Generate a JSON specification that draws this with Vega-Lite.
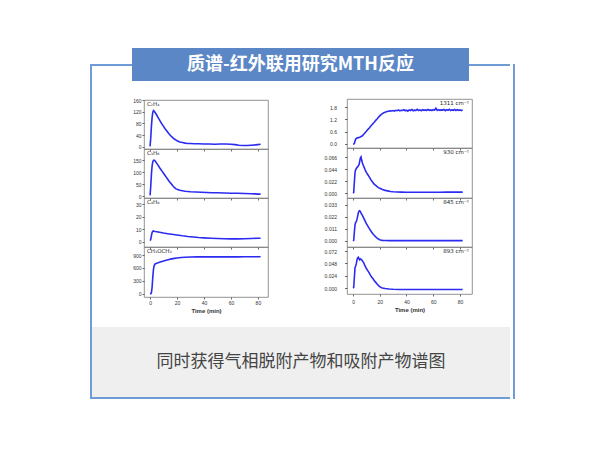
{
  "$schema": "https://vega.github.io/schema/vega-lite/v6.json",
  "padding": {"left": 90, "top": 48, "right": 0, "bottom": 0},
  "background": "white",
  "config": {
    "view": {"stroke": null},
    "concat": {"spacing": 0},
    "font": "Liberation Sans",
    "axis": {"domain": false, "grid": false, "tickColor": "#444", "tickWidth": 0.8, "labelColor": "#333", "labelFontSize": 5, "labelOverlap": false, "labelFlush": false, "labelBound": false, "tickSize": 2, "labelPadding": 1, "titleFontSize": 6, "titleFontWeight": "bold", "titleColor": "#333", "titlePadding": 2}
  },
  "datasets": {
    "c2h4": [{"t":0,"v":2},{"t":0.5,"v":30},{"t":1,"v":70},{"t":1.5,"v":100},{"t":2,"v":118},{"t":2.5,"v":124},{"t":3,"v":122},{"t":4,"v":116},{"t":5,"v":108},{"t":6,"v":100},{"t":7,"v":92},{"t":8,"v":84},{"t":9,"v":77},{"t":10,"v":70},{"t":11,"v":63},{"t":12,"v":57},{"t":13,"v":51},{"t":14,"v":45},{"t":15,"v":40},{"t":16,"v":35},{"t":17,"v":31},{"t":18,"v":27},{"t":19,"v":24},{"t":20,"v":21},{"t":22,"v":17},{"t":24,"v":15},{"t":26,"v":13},{"t":28,"v":12},{"t":30,"v":12},{"t":33,"v":11},{"t":36,"v":11},{"t":40,"v":10},{"t":44,"v":10},{"t":48,"v":9},{"t":52,"v":10},{"t":56,"v":10},{"t":60,"v":9},{"t":63,"v":8},{"t":66,"v":6},{"t":69,"v":5},{"t":72,"v":5},{"t":75,"v":6},{"t":78,"v":7},{"t":80,"v":8},{"t":82,"v":9}],
    "c3h6": [{"t":0,"v":3},{"t":0.5,"v":40},{"t":1,"v":90},{"t":1.5,"v":125},{"t":2,"v":142},{"t":2.5,"v":149},{"t":3,"v":150},{"t":3.5,"v":148},{"t":4,"v":144},{"t":5,"v":136},{"t":6,"v":128},{"t":7,"v":119},{"t":8,"v":111},{"t":9,"v":103},{"t":10,"v":95},{"t":11,"v":87},{"t":12,"v":79},{"t":13,"v":71},{"t":14,"v":63},{"t":15,"v":56},{"t":16,"v":49},{"t":17,"v":42},{"t":18,"v":36},{"t":19,"v":31},{"t":20,"v":28},{"t":22,"v":24},{"t":24,"v":22},{"t":26,"v":20},{"t":28,"v":19},{"t":30,"v":18},{"t":34,"v":17},{"t":38,"v":16},{"t":42,"v":15},{"t":46,"v":14},{"t":50,"v":14},{"t":55,"v":13},{"t":60,"v":12},{"t":65,"v":12},{"t":70,"v":11},{"t":75,"v":10},{"t":78,"v":9},{"t":80,"v":8},{"t":82,"v":8}],
    "c4h8": [{"t":0,"v":1},{"t":0.5,"v":2},{"t":1,"v":5},{"t":1.5,"v":7.5},{"t":2,"v":8.5},{"t":2.5,"v":8.8},{"t":3,"v":8.6},{"t":4,"v":8.3},{"t":6,"v":7.9},{"t":8,"v":7.5},{"t":10,"v":7.1},{"t":13,"v":6.6},{"t":16,"v":6.1},{"t":20,"v":5.5},{"t":24,"v":4.9},{"t":28,"v":4.4},{"t":32,"v":4.0},{"t":36,"v":3.6},{"t":40,"v":3.3},{"t":45,"v":3.0},{"t":50,"v":2.8},{"t":55,"v":2.6},{"t":60,"v":2.5},{"t":65,"v":2.5},{"t":70,"v":2.6},{"t":75,"v":2.8},{"t":80,"v":3.0},{"t":82,"v":3.0}],
    "dme": [{"t":0,"v":0},{"t":0.5,"v":5},{"t":1,"v":30},{"t":1.5,"v":150},{"t":2,"v":380},{"t":2.5,"v":560},{"t":3,"v":650},{"t":3.5,"v":685},{"t":4,"v":700},{"t":5,"v":712},{"t":6,"v":722},{"t":7,"v":732},{"t":8,"v":742},{"t":9,"v":752},{"t":10,"v":762},{"t":12,"v":780},{"t":14,"v":795},{"t":16,"v":810},{"t":18,"v":822},{"t":20,"v":832},{"t":23,"v":842},{"t":26,"v":849},{"t":30,"v":854},{"t":35,"v":857},{"t":40,"v":858},{"t":45,"v":857},{"t":50,"v":856},{"t":55,"v":857},{"t":60,"v":858},{"t":65,"v":858},{"t":70,"v":859},{"t":75,"v":860},{"t":80,"v":860},{"t":82,"v":860}],
    "r1311": [{"t":0,"v":0.0},{"t":0.5,"v":0.0},{"t":1,"v":0.02},{"t":1.5,"v":0.15},{"t":2,"v":0.24},{"t":2.5,"v":0.27},{"t":3,"v":0.29},{"t":4,"v":0.31},{"t":5,"v":0.33},{"t":6,"v":0.36},{"t":7,"v":0.4},{"t":8,"v":0.47},{"t":9,"v":0.55},{"t":10,"v":0.62},{"t":11,"v":0.7},{"t":12,"v":0.77},{"t":13,"v":0.85},{"t":14,"v":0.92},{"t":15,"v":1.0},{"t":16,"v":1.07},{"t":17,"v":1.15},{"t":18,"v":1.22},{"t":19,"v":1.3},{"t":20,"v":1.37},{"t":21,"v":1.43},{"t":22,"v":1.48},{"t":23,"v":1.52},{"t":24,"v":1.55},{"t":25,"v":1.57},{"t":26,"v":1.59},{"t":27,"v":1.6},{"t":28,"v":1.62},{"t":29,"v":1.61},{"t":30,"v":1.63},{"t":31,"v":1.6},{"t":32,"v":1.64},{"t":33,"v":1.62},{"t":34,"v":1.66},{"t":35,"v":1.61},{"t":36,"v":1.64},{"t":37,"v":1.63},{"t":38,"v":1.67},{"t":39,"v":1.62},{"t":40,"v":1.65},{"t":41,"v":1.6},{"t":42,"v":1.66},{"t":43,"v":1.63},{"t":44,"v":1.68},{"t":45,"v":1.62},{"t":46,"v":1.65},{"t":47,"v":1.64},{"t":48,"v":1.69},{"t":49,"v":1.63},{"t":50,"v":1.66},{"t":51,"v":1.62},{"t":52,"v":1.67},{"t":53,"v":1.64},{"t":54,"v":1.66},{"t":55,"v":1.63},{"t":56,"v":1.68},{"t":57,"v":1.64},{"t":58,"v":1.66},{"t":59,"v":1.63},{"t":60,"v":1.67},{"t":61,"v":1.65},{"t":62,"v":1.74},{"t":63,"v":1.63},{"t":64,"v":1.67},{"t":65,"v":1.64},{"t":66,"v":1.66},{"t":67,"v":1.65},{"t":68,"v":1.68},{"t":69,"v":1.62},{"t":70,"v":1.67},{"t":71,"v":1.64},{"t":72,"v":1.69},{"t":73,"v":1.63},{"t":74,"v":1.66},{"t":75,"v":1.64},{"t":76,"v":1.68},{"t":77,"v":1.63},{"t":78,"v":1.67},{"t":79,"v":1.64},{"t":80,"v":1.66},{"t":81,"v":1.62},{"t":82,"v":1.65}],
    "r930": [{"t":0,"v":0.0},{"t":0.5,"v":0.001},{"t":1,"v":0.02},{"t":1.5,"v":0.038},{"t":2,"v":0.043},{"t":2.5,"v":0.045},{"t":3,"v":0.047},{"t":3.5,"v":0.048},{"t":4,"v":0.05},{"t":4.5,"v":0.052},{"t":5,"v":0.058},{"t":5.5,"v":0.064},{"t":6,"v":0.066},{"t":6.5,"v":0.06},{"t":7,"v":0.055},{"t":8,"v":0.049},{"t":9,"v":0.043},{"t":10,"v":0.038},{"t":11,"v":0.034},{"t":12,"v":0.03},{"t":13,"v":0.026},{"t":14,"v":0.022},{"t":15,"v":0.019},{"t":16,"v":0.016},{"t":17,"v":0.014},{"t":18,"v":0.012},{"t":19,"v":0.01},{"t":20,"v":0.0088},{"t":22,"v":0.0065},{"t":24,"v":0.005},{"t":26,"v":0.004},{"t":28,"v":0.003},{"t":30,"v":0.0025},{"t":33,"v":0.002},{"t":36,"v":0.0018},{"t":40,"v":0.0016},{"t":45,"v":0.0015},{"t":50,"v":0.0015},{"t":55,"v":0.0016},{"t":60,"v":0.0015},{"t":65,"v":0.0016},{"t":70,"v":0.0017},{"t":75,"v":0.0017},{"t":80,"v":0.0018},{"t":82,"v":0.0018}],
    "r845": [{"t":0,"v":0},{"t":0.5,"v":0.0005},{"t":1,"v":0.008},{"t":1.5,"v":0.015},{"t":2,"v":0.017},{"t":2.5,"v":0.018},{"t":3,"v":0.02},{"t":3.5,"v":0.023},{"t":4,"v":0.026},{"t":4.5,"v":0.0275},{"t":5,"v":0.0278},{"t":5.5,"v":0.027},{"t":6,"v":0.0255},{"t":7,"v":0.0235},{"t":8,"v":0.021},{"t":9,"v":0.0185},{"t":10,"v":0.016},{"t":11,"v":0.0138},{"t":12,"v":0.0118},{"t":13,"v":0.0098},{"t":14,"v":0.008},{"t":15,"v":0.0064},{"t":16,"v":0.005},{"t":17,"v":0.0038},{"t":18,"v":0.0027},{"t":19,"v":0.0018},{"t":20,"v":0.0012},{"t":21,"v":0.0008},{"t":22,"v":0.0006},{"t":24,"v":0.0004},{"t":27,"v":0.0003},{"t":30,"v":0.0003},{"t":40,"v":0.0003},{"t":50,"v":0.0003},{"t":60,"v":0.0003},{"t":70,"v":0.0003},{"t":82,"v":0.0003}],
    "r893": [{"t":0,"v":0},{"t":0.5,"v":0.001},{"t":1,"v":0.02},{"t":1.5,"v":0.04},{"t":2,"v":0.043},{"t":2.5,"v":0.048},{"t":3,"v":0.055},{"t":3.5,"v":0.059},{"t":4,"v":0.06},{"t":4.5,"v":0.057},{"t":5,"v":0.055},{"t":5.5,"v":0.057},{"t":6,"v":0.056},{"t":6.5,"v":0.055},{"t":7,"v":0.053},{"t":8,"v":0.049},{"t":9,"v":0.043},{"t":10,"v":0.038},{"t":11,"v":0.034},{"t":12,"v":0.03},{"t":13,"v":0.025},{"t":14,"v":0.021},{"t":15,"v":0.018},{"t":16,"v":0.014},{"t":17,"v":0.011},{"t":18,"v":0.008},{"t":19,"v":0.005},{"t":20,"v":0.0025},{"t":21,"v":0.001},{"t":22,"v":0},{"t":24,"v":-0.001},{"t":27,"v":-0.002},{"t":30,"v":-0.0025},{"t":35,"v":-0.003},{"t":40,"v":-0.003},{"t":50,"v":-0.003},{"t":60,"v":-0.003},{"t":70,"v":-0.003},{"t":80,"v":-0.003},{"t":82,"v":-0.003}]
  },
  "spacing": 0,
  "hconcat": [
    {"spacing": 0, "bounds": "flush", "vconcat": [
      {"width": 2, "height": 16, "data": {"values": [{}]}, "mark": {"type": "text", "fontSize": 0}, "encoding": {"text": {"value": ""}}},
      {"width": 2, "height": 335, "data": {"values": [{}]}, "view": {"fill": "#6f9bd6", "stroke": null}, "mark": {"type": "text", "fontSize": 0}, "encoding": {"text": {"value": ""}}}
    ]},
    {"spacing": 0, "vconcat": [
      {"spacing": 0, "hconcat": [
        {"spacing": 0, "bounds": "flush", "vconcat": [
          {"width": 40, "height": 16, "data": {"values": [{}]}, "mark": {"type": "text", "fontSize": 0}, "encoding": {"text": {"value": ""}}},
          {"width": 40, "height": 2, "data": {"values": [{}]}, "view": {"fill": "#6f9bd6", "stroke": null}, "mark": {"type": "text", "fontSize": 0}, "encoding": {"text": {"value": ""}}}
        ]},
        {"width": 337, "height": 33, "data": {"values": [{}]}, "view": {"fill": "#5b87c6", "stroke": null},
         "mark": {"type": "text", "fill": "white", "fontSize": 18, "fontWeight": "bold", "font": "Noto Sans CJK SC"},
         "encoding": {"text": {"value": "质谱-红外联用研究MTH反应"}}},
        {"spacing": 0, "bounds": "flush", "vconcat": [
          {"width": 41, "height": 16, "data": {"values": [{}]}, "mark": {"type": "text", "fontSize": 0}, "encoding": {"text": {"value": ""}}},
          {"width": 41, "height": 2, "data": {"values": [{}]}, "view": {"fill": "#6f9bd6", "stroke": null}, "mark": {"type": "text", "fontSize": 0}, "encoding": {"text": {"value": ""}}}
        ]}
      ]},
      {"spacing": 0, "hconcat": [
        {"width": 40, "height": 246, "data": {"values": [{}]}, "mark": {"type": "text", "fontSize": 0}, "encoding": {"text": {"value": ""}}},
        {"spacing": 0, "bounds": "flush", "vconcat": [
          {"width": 124, "height": 19, "data": {"values": [{}]}, "mark": {"type": "text", "fontSize": 0}, "encoding": {"text": {"value": ""}}},
          {"width": 124, "height": 49, "view": {"stroke": "#777", "strokeWidth": 0.8}, "resolve": {"axis": {"x": "independent", "y": "independent"}}, "layer": [
            {"data": {"name": "c2h4"}, "mark": {"type": "line", "color": "#2b2bf2", "strokeWidth": 1.6, "clip": true},
             "encoding": {
               "x": {"field": "t", "type": "quantitative", "scale": {"domain": [-4.5, 87.5], "nice": false, "zero": false}, "axis": {"values": [0,20,40,60,80], "labels": false, "title": null, "labelOverlap": false}},
               "y": {"field": "v", "type": "quantitative", "scale": {"domain": [-7, 160], "nice": false, "zero": false}, "axis": {"values": [0,40,80,120,160], "title": null, "labelOverlap": false}}}},
            {"data": {"values": [{"label": "C₂H₄"}]}, "mark": {"type": "text", "align": "left", "baseline": "top", "dx": 3, "dy": 2, "fontSize": 5.5, "font": "DejaVu Sans", "fill": "#222"},
             "encoding": {"x": {"datum": -4.5, "type": "quantitative", "axis": null}, "y": {"datum": 160, "type": "quantitative", "axis": null}, "text": {"field": "label"}}}
          ]},
          {"width": 124, "height": 49, "view": {"stroke": "#777", "strokeWidth": 0.8}, "resolve": {"axis": {"x": "independent", "y": "independent"}}, "layer": [
            {"data": {"name": "c3h6"}, "mark": {"type": "line", "color": "#2b2bf2", "strokeWidth": 1.6, "clip": true},
             "encoding": {
               "x": {"field": "t", "type": "quantitative", "scale": {"domain": [-4.5, 87.5], "nice": false, "zero": false}, "axis": {"values": [0,20,40,60,80], "labels": false, "title": null, "labelOverlap": false}},
               "y": {"field": "v", "type": "quantitative", "scale": {"domain": [-8, 196], "nice": false, "zero": false}, "axis": {"values": [0,50,100,150], "title": null, "labelOverlap": false}}}},
            {"data": {"values": [{"label": "C₃H₆"}]}, "mark": {"type": "text", "align": "left", "baseline": "top", "dx": 3, "dy": 2, "fontSize": 5.5, "font": "DejaVu Sans", "fill": "#222"},
             "encoding": {"x": {"datum": -4.5, "type": "quantitative", "axis": null}, "y": {"datum": 196, "type": "quantitative", "axis": null}, "text": {"field": "label"}}}
          ]},
          {"width": 124, "height": 49, "view": {"stroke": "#777", "strokeWidth": 0.8}, "resolve": {"axis": {"x": "independent", "y": "independent"}}, "layer": [
            {"data": {"name": "c4h8"}, "mark": {"type": "line", "color": "#2b2bf2", "strokeWidth": 1.6, "clip": true},
             "encoding": {
               "x": {"field": "t", "type": "quantitative", "scale": {"domain": [-4.5, 87.5], "nice": false, "zero": false}, "axis": {"values": [0,20,40,60,80], "labels": false, "title": null, "labelOverlap": false}},
               "y": {"field": "v", "type": "quantitative", "scale": {"domain": [-4, 35], "nice": false, "zero": false}, "axis": {"values": [0,10,20,30], "title": null, "labelOverlap": false}}}},
            {"data": {"values": [{"label": "C₄H₈"}]}, "mark": {"type": "text", "align": "left", "baseline": "top", "dx": 3, "dy": 2, "fontSize": 5.5, "font": "DejaVu Sans", "fill": "#222"},
             "encoding": {"x": {"datum": -4.5, "type": "quantitative", "axis": null}, "y": {"datum": 35, "type": "quantitative", "axis": null}, "text": {"field": "label"}}}
          ]},
          {"width": 124, "height": 50, "view": {"stroke": "#777", "strokeWidth": 0.8}, "resolve": {"axis": {"x": "independent", "y": "independent"}}, "layer": [
            {"data": {"name": "dme"}, "mark": {"type": "line", "color": "#2b2bf2", "strokeWidth": 1.6, "clip": true},
             "encoding": {
               "x": {"field": "t", "type": "quantitative", "scale": {"domain": [-4.5, 87.5], "nice": false, "zero": false}, "axis": {"values": [0,20,40,60,80], "title": "Time (min)", "format": "d", "labelOverlap": false}},
               "y": {"field": "v", "type": "quantitative", "scale": {"domain": [-70, 1085], "nice": false, "zero": false}, "axis": {"values": [0,300,600,900], "title": null, "labelOverlap": false}}}},
            {"data": {"values": [{"label": "CH₃OCH₃"}]}, "mark": {"type": "text", "align": "left", "baseline": "top", "dx": 3, "dy": 2, "fontSize": 5.5, "font": "DejaVu Sans", "fill": "#222"},
             "encoding": {"x": {"datum": -4.5, "type": "quantitative", "axis": null}, "y": {"datum": 1085, "type": "quantitative", "axis": null}, "text": {"field": "label"}}}
          ]}
        ]},
        {"width": 54, "height": 246, "data": {"values": [{}]}, "mark": {"type": "text", "fontSize": 0}, "encoding": {"text": {"value": ""}}},
        {"spacing": 0, "bounds": "flush", "vconcat": [
          {"width": 125, "height": 18, "data": {"values": [{}]}, "mark": {"type": "text", "fontSize": 0}, "encoding": {"text": {"value": ""}}},
          {"width": 125, "height": 49, "view": {"stroke": "#777", "strokeWidth": 0.8}, "resolve": {"axis": {"x": "independent", "y": "independent"}}, "layer": [
            {"data": {"name": "r1311"}, "mark": {"type": "line", "color": "#2b2bf2", "strokeWidth": 1.6, "clip": true},
             "encoding": {
               "x": {"field": "t", "type": "quantitative", "scale": {"domain": [-4.5, 89], "nice": false, "zero": false}, "axis": {"values": [0,20,40,60,80], "labels": false, "title": null, "labelOverlap": false}},
               "y": {"field": "v", "type": "quantitative", "scale": {"domain": [-0.195, 2.19], "nice": false, "zero": false}, "axis": {"values": [0,0.6,1.2,1.8], "format": ".1f", "title": null, "labelPadding": 8, "tickSize": 2.5, "labelOverlap": false}}}},
            {"data": {"values": [{"label": "1311 cm⁻¹"}]}, "mark": {"type": "text", "align": "right", "baseline": "top", "dx": -3, "dy": 2, "fontSize": 5.5, "font": "DejaVu Sans", "fill": "#222"},
             "encoding": {"x": {"datum": 89, "type": "quantitative", "axis": null}, "y": {"datum": 2.19, "type": "quantitative", "axis": null}, "text": {"field": "label"}}}
          ]},
          {"width": 125, "height": 50, "view": {"stroke": "#777", "strokeWidth": 0.8}, "resolve": {"axis": {"x": "independent", "y": "independent"}}, "layer": [
            {"data": {"name": "r930"}, "mark": {"type": "line", "color": "#2b2bf2", "strokeWidth": 1.6, "clip": true},
             "encoding": {
               "x": {"field": "t", "type": "quantitative", "scale": {"domain": [-4.5, 89], "nice": false, "zero": false}, "axis": {"values": [0,20,40,60,80], "labels": false, "title": null, "labelOverlap": false}},
               "y": {"field": "v", "type": "quantitative", "scale": {"domain": [-0.009, 0.0825], "nice": false, "zero": false}, "axis": {"values": [0,0.022,0.044,0.066], "format": ".3f", "title": null, "labelPadding": 8, "tickSize": 2.5, "labelOverlap": false}}}},
            {"data": {"values": [{"label": "930 cm⁻¹"}]}, "mark": {"type": "text", "align": "right", "baseline": "top", "dx": -3, "dy": 2, "fontSize": 5.5, "font": "DejaVu Sans", "fill": "#222"},
             "encoding": {"x": {"datum": 89, "type": "quantitative", "axis": null}, "y": {"datum": 0.0825, "type": "quantitative", "axis": null}, "text": {"field": "label"}}}
          ]},
          {"width": 125, "height": 49, "view": {"stroke": "#777", "strokeWidth": 0.8}, "resolve": {"axis": {"x": "independent", "y": "independent"}}, "layer": [
            {"data": {"name": "r845"}, "mark": {"type": "line", "color": "#2b2bf2", "strokeWidth": 1.6, "clip": true},
             "encoding": {
               "x": {"field": "t", "type": "quantitative", "scale": {"domain": [-4.5, 89], "nice": false, "zero": false}, "axis": {"values": [0,20,40,60,80], "labels": false, "title": null, "labelOverlap": false}},
               "y": {"field": "v", "type": "quantitative", "scale": {"domain": [-0.0055, 0.0394], "nice": false, "zero": false}, "axis": {"values": [0,0.011,0.022,0.033], "format": ".3f", "title": null, "labelPadding": 8, "tickSize": 2.5, "labelOverlap": false}}}},
            {"data": {"values": [{"label": "845 cm⁻¹"}]}, "mark": {"type": "text", "align": "right", "baseline": "top", "dx": -3, "dy": 2, "fontSize": 5.5, "font": "DejaVu Sans", "fill": "#222"},
             "encoding": {"x": {"datum": 89, "type": "quantitative", "axis": null}, "y": {"datum": 0.0394, "type": "quantitative", "axis": null}, "text": {"field": "label"}}}
          ]},
          {"width": 125, "height": 47, "view": {"stroke": "#777", "strokeWidth": 0.8}, "resolve": {"axis": {"x": "independent", "y": "independent"}}, "layer": [
            {"data": {"name": "r893"}, "mark": {"type": "line", "color": "#2b2bf2", "strokeWidth": 1.6, "clip": true},
             "encoding": {
               "x": {"field": "t", "type": "quantitative", "scale": {"domain": [-4.5, 89], "nice": false, "zero": false}, "axis": {"values": [0,20,40,60,80], "title": "Time (min)", "format": "d", "labelPadding": 3, "labelOverlap": false}},
               "y": {"field": "v", "type": "quantitative", "scale": {"domain": [-0.0117, 0.08], "nice": false, "zero": false}, "axis": {"values": [0,0.024,0.048,0.072], "format": ".3f", "title": null, "labelPadding": 8, "tickSize": 2.5, "labelOverlap": false}}}},
            {"data": {"values": [{"label": "893 cm⁻¹"}]}, "mark": {"type": "text", "align": "right", "baseline": "top", "dx": -3, "dy": 2, "fontSize": 5.5, "font": "DejaVu Sans", "fill": "#222"},
             "encoding": {"x": {"datum": 89, "type": "quantitative", "axis": null}, "y": {"datum": 0.08, "type": "quantitative", "axis": null}, "text": {"field": "label"}}}
          ]}
        ]},
        {"width": 40, "height": 246, "data": {"values": [{}]}, "mark": {"type": "text", "fontSize": 0}, "encoding": {"text": {"value": ""}}}
      ]},
      {"width": 418, "height": 70, "data": {"values": [{}]}, "view": {"fill": "#efefef", "stroke": null},
       "mark": {"type": "text", "fontSize": 17, "fill": "#444", "font": "Noto Sans CJK SC"},
       "encoding": {"text": {"value": "同时获得气相脱附产物和吸附产物谱图"}}},
      {"width": 418, "height": 2, "data": {"values": [{}]}, "view": {"fill": "#6f9bd6", "stroke": null}, "mark": {"type": "text", "fontSize": 0}, "encoding": {"text": {"value": ""}}}
    ]},
    {"spacing": 0, "bounds": "flush", "vconcat": [
      {"width": 2, "height": 16, "data": {"values": [{}]}, "mark": {"type": "text", "fontSize": 0}, "encoding": {"text": {"value": ""}}},
      {"width": 2, "height": 335, "data": {"values": [{}]}, "view": {"fill": "#6f9bd6", "stroke": null}, "mark": {"type": "text", "fontSize": 0}, "encoding": {"text": {"value": ""}}}
    ]}
  ]
}
